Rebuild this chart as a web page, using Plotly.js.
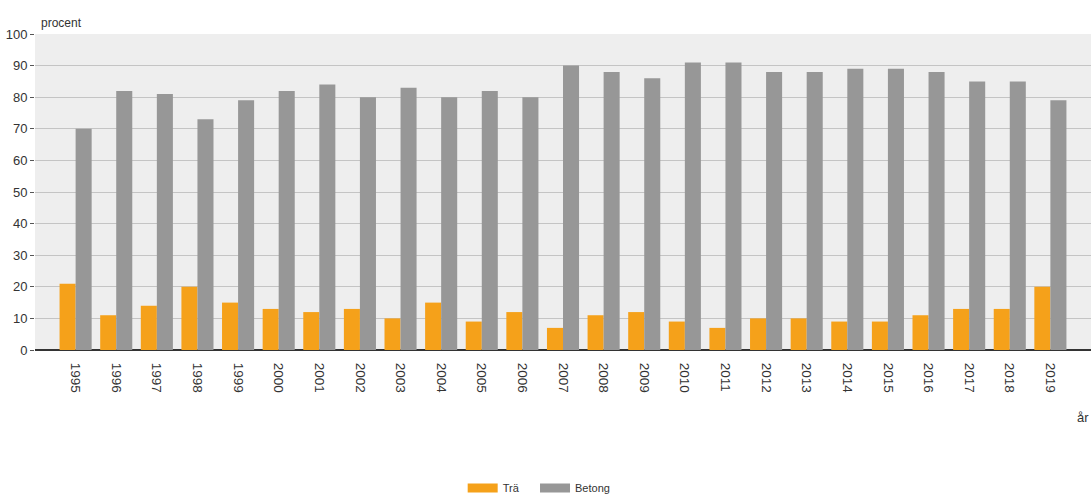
<!DOCTYPE html>
<html>
<head>
<meta charset="utf-8">
<script src="https://cdn.plot.ly/plotly-3.0.1.min.js"></script>
<style>
  html, body { margin: 0; padding: 0; background: #ffffff; }
  #chart { width: 1092px; height: 496px; }
</style>
</head>
<body>
<div id="chart"></div>
<script>
// Byggår och andel per stommaterial
const years = ['1995','1996','1997','1998','1999','2000','2001','2002','2003','2004',
               '2005','2006','2007','2008','2009','2010','2011','2012','2013','2014',
               '2015','2016','2017','2018','2019'];
const tra    = [21, 11, 14, 20, 15, 13, 12, 13, 10, 15, 9, 12, 7, 11, 12, 9, 7, 10, 10, 9, 9, 11, 13, 13, 20];
const betong = [70, 82, 81, 73, 79, 82, 84, 80, 83, 80, 82, 80, 90, 88, 86, 91, 91, 88, 88, 89, 89, 88, 85, 85, 79];
const yTicks = [0, 10, 20, 30, 40, 50, 60, 70, 80, 90, 100];
const seriesNames  = ['Trä', 'Betong'];
const seriesColors = ['#f5a11a', '#979797'];

const font = 'Liberation Sans, Arial, sans-serif';

const traces = [
  { type: 'bar', name: seriesNames[0], x: years, y: tra, legendgroup: 'a',
    showlegend: false, marker: { color: seriesColors[0] } },
  { type: 'bar', name: seriesNames[1], x: years, y: betong, legendgroup: 'b',
    showlegend: false, marker: { color: seriesColors[1] } },
  // legend entries drawn as wide flat swatches (no visible data)
  { type: 'scatter', mode: 'lines', name: seriesNames[0], x: [years[0]], y: [null],
    legendgroup: 'a', legend: 'legend', line: { color: seriesColors[0], width: 9 } },
  { type: 'scatter', mode: 'lines', name: seriesNames[1], x: [years[0]], y: [null],
    legendgroup: 'b', legend: 'legend2', line: { color: seriesColors[1], width: 9 } }
];

const legendBase = {
  orientation: 'h', xanchor: 'left', y: -0.437, yanchor: 'middle',
  font: { family: font, size: 11, color: '#333333' },
  itemclick: false
};

const layout = {
  width: 1092, height: 496,
  margin: { l: 35, r: 1, t: 34, b: 146, autoexpand: false },
  paper_bgcolor: '#ffffff',
  plot_bgcolor: '#eeeeee',
  font: { family: font, size: 12, color: '#333333' },
  barmode: 'group',
  bargap: 0.21,
  bargroupgap: 0,
  showlegend: true,
  legend:  Object.assign({}, legendBase, { x: 0.405 }),
  legend2: Object.assign({}, legendBase, { x: 0.4735 }),
  xaxis: {
    type: 'category',
    range: [-1, 25],
    tickangle: 90,
    tickfont: { family: font, size: 13.5, color: '#333333' },
    showgrid: false,
    ticks: 'outside', ticklen: 9, tickcolor: 'rgba(0,0,0,0)',
    showline: false,
    automargin: false,
    fixedrange: true
  },
  yaxis: {
    range: [0, 100],
    tickvals: yTicks,
    ticktext: yTicks.map(String),
    tickfont: { family: font, size: 13, color: '#333333' },
    ticks: 'outside', ticklen: 4, tickcolor: '#555555',
    gridcolor: '#c4c4c4', gridwidth: 1,
    zeroline: true, zerolinecolor: '#333333', zerolinewidth: 1.5,
    showline: false,
    automargin: false,
    fixedrange: true
  },
  annotations: [
    { text: 'procent', xref: 'paper', yref: 'paper', x: 0.004, y: 1.005,
      xanchor: 'left', yanchor: 'bottom', showarrow: false,
      font: { family: font, size: 12, color: '#333333' } },
    { text: 'år', xref: 'paper', yref: 'paper', x: 1.0, y: -0.185,
      xanchor: 'right', yanchor: 'top', showarrow: false,
      font: { family: font, size: 13, color: '#333333' } }
  ]
};

Plotly.newPlot('chart', traces, layout, { displayModeBar: false, staticPlot: true });
</script>
</body>
</html>
